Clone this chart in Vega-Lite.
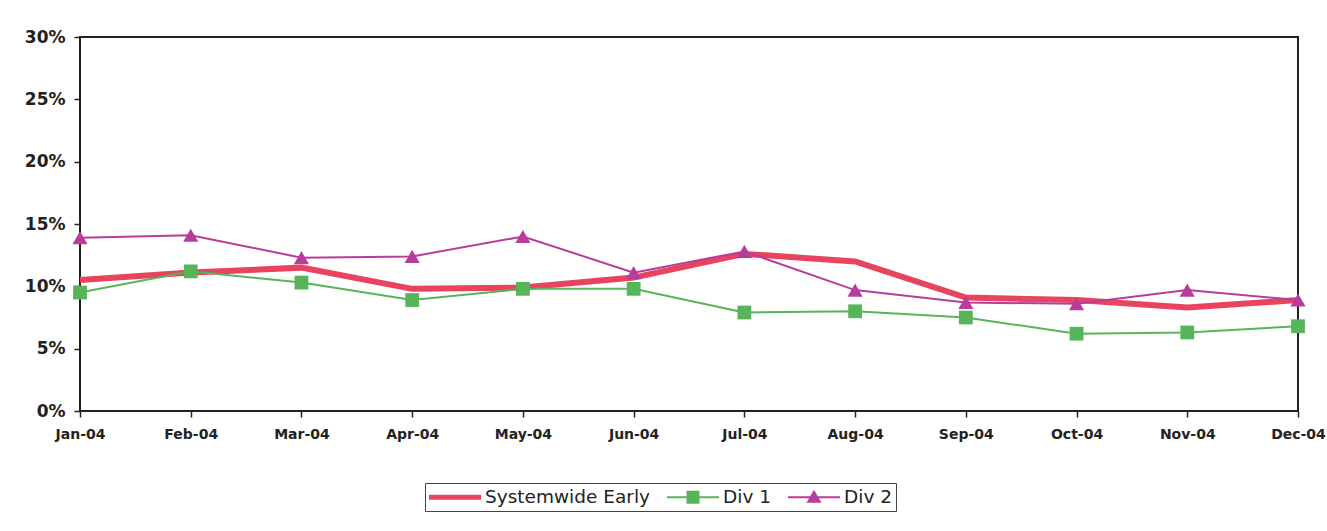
{
  "$schema": "https://vega.github.io/schema/vega-lite/v6.json",
  "width": 1218,
  "height": 374,
  "autosize": {"type": "none"},
  "padding": {"left": 80, "top": 37, "right": 29, "bottom": 120},
  "background": "white",
  "config": {
    "view": {"stroke": "#222", "strokeWidth": 2},
    "font": "DejaVu Sans"
  },
  "data": {
    "values": [
      {"month": "Jan-04", "series": "Systemwide Early", "value": 0.105},
      {"month": "Feb-04", "series": "Systemwide Early", "value": 0.111},
      {"month": "Mar-04", "series": "Systemwide Early", "value": 0.115},
      {"month": "Apr-04", "series": "Systemwide Early", "value": 0.098},
      {"month": "May-04", "series": "Systemwide Early", "value": 0.099},
      {"month": "Jun-04", "series": "Systemwide Early", "value": 0.107},
      {"month": "Jul-04", "series": "Systemwide Early", "value": 0.126},
      {"month": "Aug-04", "series": "Systemwide Early", "value": 0.120},
      {"month": "Sep-04", "series": "Systemwide Early", "value": 0.091},
      {"month": "Oct-04", "series": "Systemwide Early", "value": 0.089},
      {"month": "Nov-04", "series": "Systemwide Early", "value": 0.083},
      {"month": "Dec-04", "series": "Systemwide Early", "value": 0.089},
      {"month": "Jan-04", "series": "Div 1", "value": 0.095},
      {"month": "Feb-04", "series": "Div 1", "value": 0.112},
      {"month": "Mar-04", "series": "Div 1", "value": 0.103},
      {"month": "Apr-04", "series": "Div 1", "value": 0.089},
      {"month": "May-04", "series": "Div 1", "value": 0.098},
      {"month": "Jun-04", "series": "Div 1", "value": 0.098},
      {"month": "Jul-04", "series": "Div 1", "value": 0.079},
      {"month": "Aug-04", "series": "Div 1", "value": 0.080},
      {"month": "Sep-04", "series": "Div 1", "value": 0.075},
      {"month": "Oct-04", "series": "Div 1", "value": 0.062},
      {"month": "Nov-04", "series": "Div 1", "value": 0.063},
      {"month": "Dec-04", "series": "Div 1", "value": 0.068},
      {"month": "Jan-04", "series": "Div 2", "value": 0.139},
      {"month": "Feb-04", "series": "Div 2", "value": 0.141},
      {"month": "Mar-04", "series": "Div 2", "value": 0.123},
      {"month": "Apr-04", "series": "Div 2", "value": 0.124},
      {"month": "May-04", "series": "Div 2", "value": 0.140},
      {"month": "Jun-04", "series": "Div 2", "value": 0.111},
      {"month": "Jul-04", "series": "Div 2", "value": 0.128},
      {"month": "Aug-04", "series": "Div 2", "value": 0.097},
      {"month": "Sep-04", "series": "Div 2", "value": 0.087},
      {"month": "Oct-04", "series": "Div 2", "value": 0.086},
      {"month": "Nov-04", "series": "Div 2", "value": 0.097},
      {"month": "Dec-04", "series": "Div 2", "value": 0.089}
    ]
  },
  "encoding": {
    "x": {
      "field": "month",
      "type": "ordinal",
      "sort": null,
      "scale": {"type": "point", "padding": 0},
      "axis": {
        "title": null,
        "labelAngle": 0,
        "labelFont": "DejaVu Sans",
        "labelFontWeight": "bold",
        "labelFontSize": 14,
        "labelColor": "#222",
        "labelPadding": 10,
        "domain": false,
        "ticks": true,
        "tickSize": 6,
        "tickColor": "#222",
        "tickWidth": 1.5,
        "grid": false
      }
    },
    "y": {
      "field": "value",
      "type": "quantitative",
      "scale": {"domain": [0, 0.3], "nice": false},
      "axis": {
        "title": null,
        "format": ".0%",
        "values": [0, 0.05, 0.1, 0.15, 0.2, 0.25, 0.3],
        "labelFont": "DejaVu Sans",
        "labelFontWeight": "bold",
        "labelFontSize": 17,
        "labelColor": "#222",
        "labelPadding": 9,
        "domain": false,
        "ticks": true,
        "tickSize": 6,
        "tickColor": "#222",
        "tickWidth": 1.5,
        "grid": false
      }
    }
  },
  "layer": [
    {
      "mark": {"type": "line", "strokeJoin": "miter"},
      "encoding": {
        "color": {
          "field": "series",
          "type": "nominal",
          "sort": null,
          "scale": {
            "domain": ["Systemwide Early", "Div 1", "Div 2"],
            "range": ["#e8435f", "#58b458", "#b83c9c"]
          },
          "legend": {
            "orient": "none",
            "legendX": 345,
            "legendY": 446,
            "direction": "horizontal",
            "title": null,
            "strokeColor": "#444",
            "padding": 4,
            "labelFont": "DejaVu Sans",
            "labelFontSize": 18.5,
            "labelColor": "#222",
            "labelLimit": 400,
            "labelOffset": 36,
            "columnPadding": 17,
            "symbolSize": 400,
            "symbolStrokeWidth": 0,
            "encode": {
              "symbols": {
                "update": {
                  "shape": {"signal": "datum.value === 'Systemwide Early' ? 'M-1,-0.25H4.2V0.25H-1Z' : datum.value === 'Div 1' ? 'M-1,-0.1H4.2V0.1H-1Z M0.95,-0.65H2.25V0.65H0.95Z' : 'M-1,-0.1H4.2V0.1H-1Z M1.6,-0.75L2.35,0.55H0.85Z'"},
                  "fill": {"scale": "color", "field": "value"},
                  "strokeWidth": {"value": 0},
                  "opacity": {"value": 1}
                }
              }
            }
          }
        },
        "strokeWidth": {
          "condition": {"test": "datum.series === 'Systemwide Early'", "value": 6},
          "value": 2
        }
      }
    },
    {
      "transform": [{"filter": "datum.series !== 'Systemwide Early'"}],
      "mark": {"type": "point", "filled": true, "opacity": 1},
      "encoding": {
        "color": {"field": "series", "type": "nominal", "legend": null},
        "shape": {
          "field": "series",
          "type": "nominal",
          "scale": {"domain": ["Div 1", "Div 2"], "range": ["square", "triangle-up"]},
          "legend": null
        },
        "size": {
          "condition": {"test": "datum.series === 'Div 1'", "value": 190},
          "value": 230
        }
      }
    }
  ]
}
